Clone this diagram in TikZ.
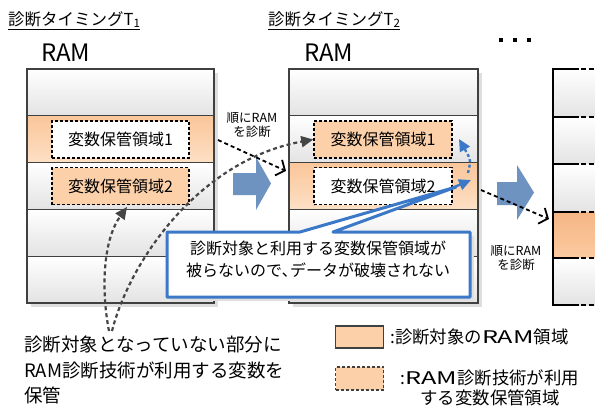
\documentclass[tikz,border=0pt]{standalone}
\usepackage{fontspec}
\setmainfont{Noto Sans CJK JP}
\usetikzlibrary{arrows.meta}
\definecolor{rowbot}{HTML}{E3E3E3}
\definecolor{orgtop}{HTML}{FAC69A}
\definecolor{orgbot}{HTML}{FDE0C5}
\definecolor{o3top}{HTML}{F5B685}
\definecolor{o3bot}{HTML}{FBCAA0}
\definecolor{varorg}{HTML}{FCD1AA}
\definecolor{edge}{HTML}{404040}
\definecolor{blockblue}{HTML}{6F93C1}
\definecolor{callblue}{HTML}{3C78C8}
\definecolor{shadowgray}{HTML}{DEDEDE}
\definecolor{curvegray}{HTML}{454545}
\newcommand\fsz[2]{\fontsize{#1}{#2}\selectfont}
\newcommand\wideram{\scalebox{1.45}[1]{RAM}}
\tikzset{
  rowg/.style={draw=edge, line width=1.3pt, top color=white, bottom color=rowbot,
    minimum height=46.8pt, inner sep=0pt, outer sep=0pt},
  rowo/.style={rowg, top color=orgtop, bottom color=orgbot},
  varbox/.style={draw=black, line width=1.5pt, dash pattern=on 3pt off 2pt,
    minimum width=137pt, minimum height=37pt, inner sep=0pt, font=\fsz{16}{19}},
  varw/.style={varbox, fill=white},
  varo/.style={varbox, fill=varorg},
  dasharr/.style={draw=black, line width=1.8pt, dash pattern=on 4pt off 3pt,
    -{Straight Barb[length=7pt,width=17pt,line width=1.8pt]}},
  curvearr/.style={draw=curvegray, line width=2.2pt, dash pattern=on 4pt off 3pt,
    -{Triangle[length=12pt,width=11pt]}},
  bluearr/.style={draw=callblue, line width=2.4pt,
    -{Triangle[length=12pt,width=11pt]}},
  smalllbl/.style={font=\fsz{12.5}{14}, align=center, inner sep=0pt},
  title/.style={font=\fsz{16.5}{20}, anchor=base west, inner sep=0pt},
  ramlbl/.style={font=\fsz{24}{28}, anchor=base west, inner sep=0pt},
  legbox/.style={draw=edge, line width=1.5pt, fill=varorg, minimum width=48pt, inner sep=0pt},
  legtext/.style={font=\fsz{17.4}{20.5}, inner sep=0pt},
}
\begin{document}
\begin{tikzpicture}[x=1pt,y=-1pt]
\useasboundingbox (0,0) rectangle (595,410);
\fill[white] (0,0) rectangle (595,410);

% titles
\node[title] (t1) at (8,25) {\underline{診断タイミングT\textsubscript{1}}};
\node[title] (t2) at (268,25) {\underline{診断タイミングT\textsubscript{2}}};
\node[ramlbl] (ram1) at (41,61) {RAM};
\node[ramlbl] (ram2) at (304,61) {RAM};
\foreach \dx in {501,515,529} \fill[black] (\dx-2.3,37.7) rectangle (\dx+2.3,42.3);

% shadows
\fill[shadowgray] (31,73) rectangle (218,307);
\fill[shadowgray] (293,73) rectangle (482,307);

% block 1
\node[rowg, minimum width=187pt] (r11) at (120.5,92.4) {};
\node[rowo, minimum width=187pt] (r12) at (120.5,139.2) {};
\node[rowg, minimum width=187pt] (r13) at (120.5,186) {};
\node[rowg, minimum width=187pt] (r14) at (120.5,232.8) {};
\node[rowg, minimum width=187pt] (r15) at (120.5,279.6) {};
\node[varw] (v11) at (120.5,139.5) {変数保管領域1};
\node[varo] (v12) at (120.5,186) {変数保管領域2};

% block 2
\node[rowg, minimum width=189pt] (r21) at (383.5,92.4) {};
\node[rowg, minimum width=189pt] (r22) at (383.5,139.2) {};
\node[rowo, minimum width=189pt] (r23) at (383.5,186) {};
\node[rowg, minimum width=189pt] (r24) at (383.5,232.8) {};
\node[rowg, minimum width=189pt] (r25) at (383.5,279.6) {};
\node[varo, minimum width=138pt] (v21) at (383,139.5) {変数保管領域1};
\node[varw, minimum width=138pt] (v22) at (383,186) {変数保管領域2};

% block 3 (partial)
\shade[top color=white, bottom color=rowbot] (553,69) rectangle (595,117);
\shade[top color=white, bottom color=rowbot] (553,117) rectangle (595,164);
\shade[top color=white, bottom color=rowbot] (553,164) rectangle (595,212);
\shade[top color=o3top, bottom color=o3bot] (553,212) rectangle (595,258);
\shade[top color=white, bottom color=rowbot] (553,258) rectangle (595,305);
\draw[black, line width=1.5pt] (553,69) -- (553,305);
\foreach \yy in {69,117,164,212,258,305} {
  \draw[black, line width=1.5pt] (552.25,\yy) -- (579,\yy);
  \draw[black, line width=1.5pt, dash pattern=on 5pt off 3pt] (581,\yy) -- (595,\yy);
}

% block arrows
\fill[blockblue] (233,173) -- (256,173) -- (256,157) -- (271,183.5) -- (256,210) -- (256,195) -- (233,195) -- cycle;
\fill[blockblue] (497,182) -- (517,182) -- (517,165) -- (534,192.5) -- (517,220) -- (517,205) -- (497,205) -- cycle;

% small labels
\node[smalllbl] (s1) at (252,125) {順にRAM\\を診断};
\node[smalllbl] (s2) at (516,258) {順にRAM\\を診断};

% dashed scan arrows
\coordinate (d1s) at (218,140);
\coordinate (d1e) at (286,171);
\coordinate (d2s) at (481,190);
\coordinate (d2e) at (549,219);
\draw[dasharr] (d1s) -- (d1e);
\draw[dasharr] (d2s) -- (d2e);

% bottom-left note
\node[font=\fsz{18.5}{25.5}, align=left, anchor=west, inner sep=0pt] (note) at (24,370)
  {診断対象となっていない部分に\\RAM診断技術が利用する変数を\\保管};
\coordinate (n1) at (109,331);
\coordinate (n2) at (112,331);
\coordinate (v12b) at (127,207);
\draw[curvearr] (n1) .. controls (101,290) and (103,240) .. (v12b);
\draw[curvearr] (n2) .. controls (130,260) and (200,160) .. (v21.west);

% callout
\fill[shadowgray] (171,236) rectangle (474,301);
\draw[callblue, line width=3pt, line join=round, fill=white]
  (167,232) -- (300,232) -- (456,187) -- (333,232) -- (470,232) -- (470,297) -- (167,297) -- cycle;
\node[font=\fsz{16}{22}, align=center, inner sep=0pt] (co) at (318,259)
  {診断対象と利用する変数保管領域が\\被らないので､データが破壊されない};
\coordinate (bs) at (452,188);
\coordinate (bt) at (471,180);
\draw[bluearr] (bs) -- (bt);
\coordinate (bc1) at (468,173);
\coordinate (bc2) at (459,139);
\draw[callblue, line width=2.4pt, dash pattern=on 3pt off 2.5pt, -{Triangle[length=12pt,width=11pt]}]
  (bc1) .. controls (471,160) .. (bc2);

% legend
\node[legbox, minimum height=22pt] (lg1) at (359.5,337) {};
\node[legtext, anchor=west] (lt1) at (390,337) {:診断対象の\wideram 領域};
\node[legbox, dash pattern=on 3pt off 2pt, minimum height=23pt] (lg2) at (359.5,378.5) {};
\node[legtext, align=center] (lt2) at (490,388) {:\wideram 診断技術が利用\\する変数保管領域};
\end{tikzpicture}
\end{document}
